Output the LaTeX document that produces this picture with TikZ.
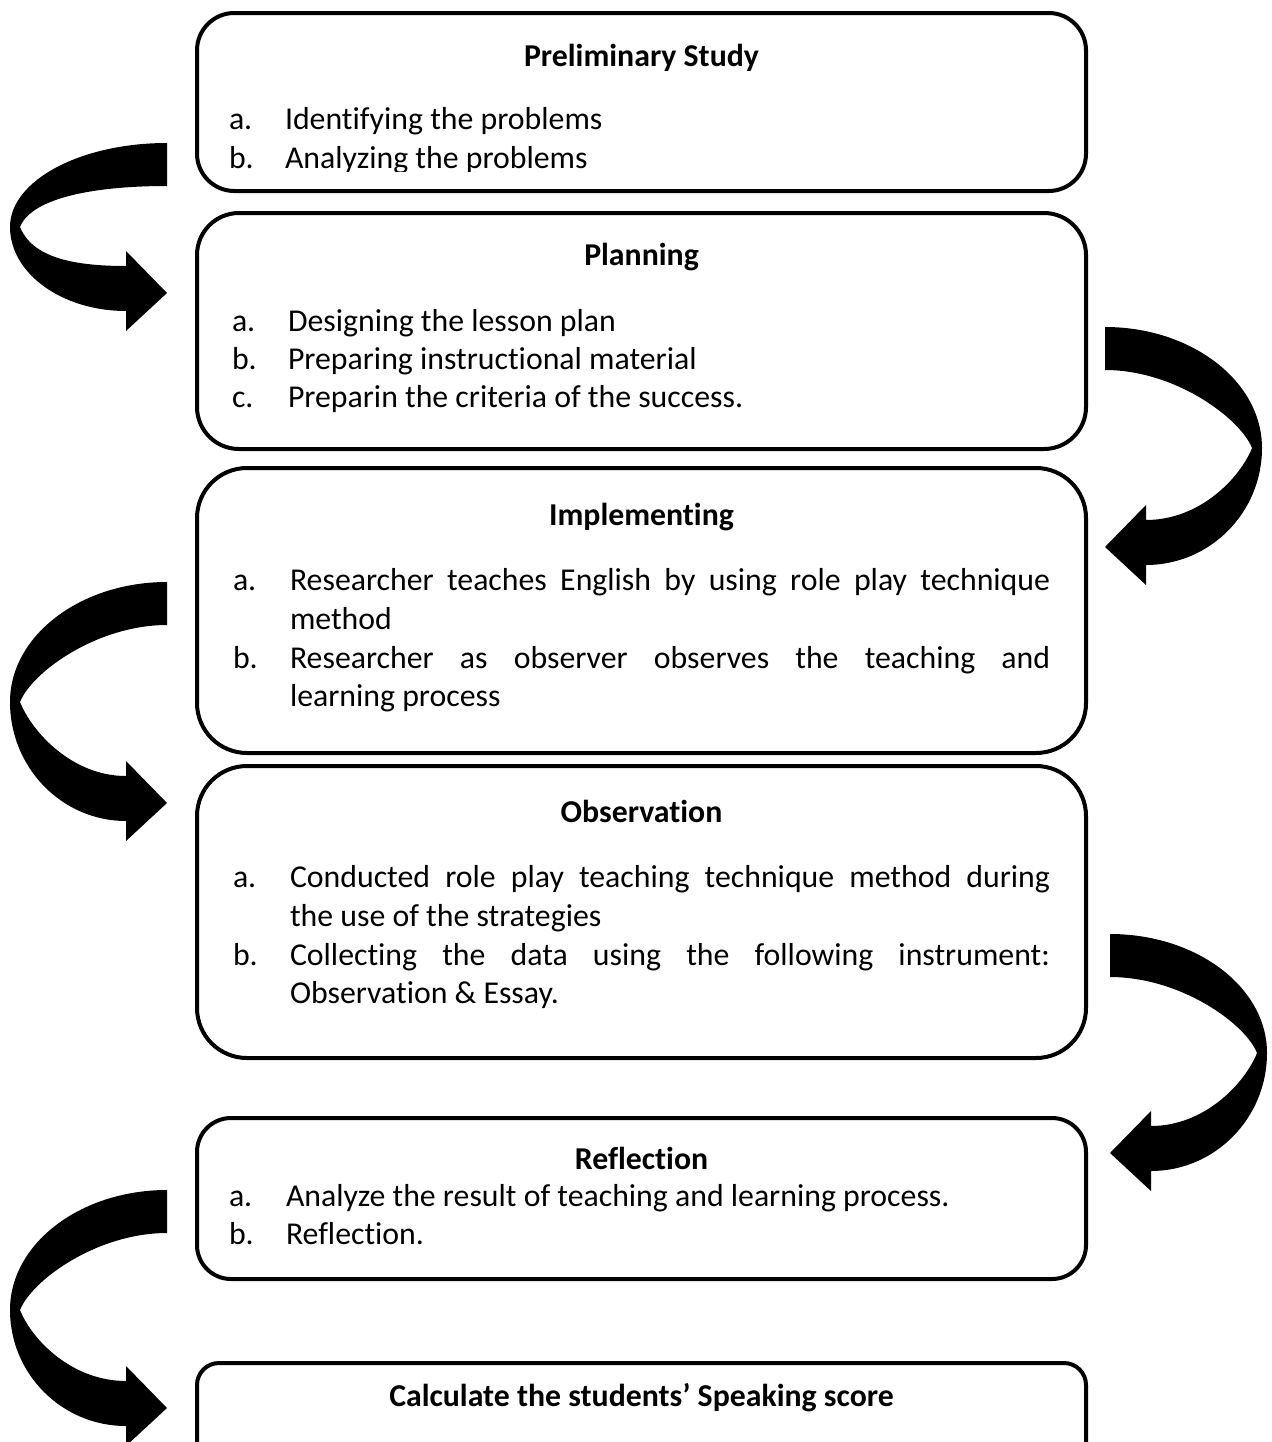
\documentclass[tikz,border=0pt]{standalone}
\usepackage{fontspec}
\setmainfont{Carlito}[Ligatures={NoCommon}]
\newcommand\bigarrow[5]{%
  \fill[shift={(#1,#2)}, xscale=#3]
    (0,0) .. controls (86.7,0) and (157,{#4*0.448}) .. (157,#4)
    .. controls (157,{#4+0.552*(#5+18-#4)}) and (105,{#5+18}) .. (41,{#5+18})
    -- (41,{#5+38}) -- (0,#5) -- (41,{#5-42}) -- (41,{#5-27})
    .. controls (95,{#5-27}) and (135,{#4+30}) .. (147,#4)
    .. controls (135,{#4-30}) and (70,43) .. (0,43) -- cycle;}
\begin{document}
\begin{tikzpicture}[x=0.75pt,y=-0.75pt,
  every node/.style={inner sep=0pt, outer sep=0pt},
  txt/.style={anchor=base west, font=\fontsize{23.85pt}{28pt}\selectfont},
  ttl/.style={anchor=base, font=\fontsize{23.85pt}{28pt}\selectfont\bfseries},
  box/.style={draw, line width=3pt, minimum width=666.75pt}]
\clip (0,0) rectangle (1271,1442);
\fill[white] (0,0) rectangle (1271,1442);

% boxes
\node[box, rounded corners=28pt,   minimum height=133.5pt]  (b1) at (641.5,102) {};
\node[box, rounded corners=31.5pt, minimum height=177pt]    (b2) at (641.5,331) {};
\node[box, rounded corners=37.5pt, minimum height=213.75pt] (b3) at (641.5,610.5) {};
\node[box, rounded corners=37.5pt, minimum height=219pt]    (b4) at (641.5,912) {};
\node[box, rounded corners=25.5pt, minimum height=120.75pt] (b5) at (641.5,1198.5) {};
\node[box, rounded corners=16.5pt, minimum height=87.75pt]  (b6) at (641.5,1421.5) {};

% box 1
\node[ttl] (t1) at (641.5,66) {Preliminary Study};
\begin{scope}
\clip (190,0) rectangle (1090,171);
\node[txt] (l1a) at (229,129) {a.};
\node[txt] (l1at) at (285,129) {Identifying the problems};
\node[txt] (l1b) at (229,168) {b.};
\node[txt] (l1bt) at (285,168) {Analyzing the problems};
\end{scope}

% box 2
\node[ttl] (t2) at (641.5,265) {Planning};
\node[txt] (l2a) at (232,331) {a.};
\node[txt] (l2at) at (288,331) {Designing the lesson plan};
\node[txt] (l2b) at (232,369) {b.};
\node[txt] (l2bt) at (288,369) {Preparing instructional material};
\node[txt] (l2c) at (232,407) {c.};
\node[txt] (l2ct) at (288,407) {Preparin the criteria of the success.};

% box 3
\node[ttl] (t3) at (641.5,525) {Implementing};
\node[txt] (l3a) at (233,590) {a.};
\node[txt] (l3at) at (290,590) {\makebox[570pt][s]{Researcher teaches English by using role play technique}};
\node[txt] (l3at2) at (290,629) {method};
\node[txt] (l3b) at (233,668) {b.};
\node[txt] (l3bt) at (290,668) {\makebox[570pt][s]{Researcher as observer observes the teaching and}};
\node[txt] (l3bt2) at (290,706) {learning process};

% box 4
\node[ttl] (t4) at (641.5,822) {Observation};
\node[txt] (l4a) at (233,887) {a.};
\node[txt] (l4at) at (290,887) {\makebox[570pt][s]{Conducted role play teaching technique method during}};
\node[txt] (l4at2) at (290,926) {the use of the strategies};
\node[txt] (l4b) at (233,965) {b.};
\node[txt] (l4bt) at (290,965) {\makebox[570pt][s]{Collecting the data using the following instrument:}};
\node[txt] (l4bt2) at (290,1003) {Observation \& Essay.};

% box 5
\node[ttl] (t5) at (641.5,1169) {Reflection};
\node[txt] (l5a) at (229,1206) {a.};
\node[txt] (l5at) at (286,1206) {Analyze the result of teaching and learning process.};
\node[txt] (l5b) at (229,1244) {b.};
\node[txt] (l5bt) at (286,1244) {Reflection.};

% box 6
\node[ttl] (t6) at (641.5,1406) {Calculate the students’ Speaking score};

% curved arrows
\bigarrow{167}{143}{-1}{84}{150}
\bigarrow{1105}{327}{1}{121}{220}
\bigarrow{167}{582}{-1}{120}{221}
\bigarrow{1110}{934}{1}{119}{219}
\bigarrow{167}{1190}{-1}{120}{218}
\end{tikzpicture}
\end{document}
